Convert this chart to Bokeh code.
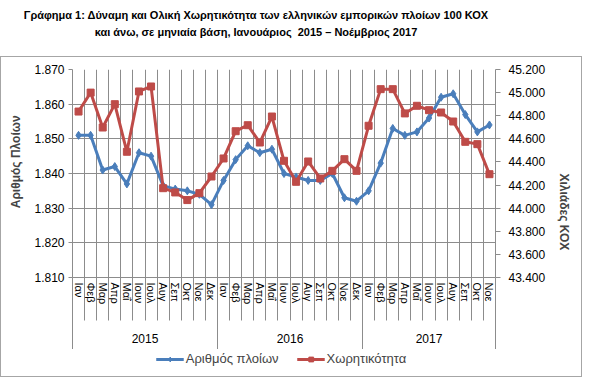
import math
from bokeh.plotting import figure
from bokeh.models import (Range1d, LinearAxis, FixedTicker, Legend, LegendItem, Div,
                          ColumnDataSource, CustomJSTickFormatter)
from bokeh.layouts import column
from bokeh.embed import file_html
from bokeh.resources import INLINE

months = ["Ιαν", "Φεβ", "Μαρ", "Απρ", "Μαΐ", "Ιουν", "Ιουλ", "Αυγ", "Σεπ", "Οκτ", "Νοε", "Δεκ"]
years = ["2015", "2016", "2017"]
categories = months * 2 + months[:11]

# number of ships (left axis)
ships = [1851, 1851, 1841, 1842, 1837, 1846, 1845, 1836.5, 1835.5, 1835, 1834, 1831,
         1838, 1844, 1848, 1846, 1847, 1840, 1839, 1838, 1838, 1840, 1833, 1832,
         1835, 1843, 1853, 1851, 1852, 1856, 1862, 1863, 1857, 1852, 1854]
# tonnage, thousand GT (right axis)
tonnage = [44836, 45000, 44698, 44900, 44488, 45010, 45053, 44173, 44136, 44070, 44130, 44274,
           44430, 44666, 44718, 44568, 44793, 44410, 44228, 44404, 44257, 44323, 44424, 44323,
           44713, 45030, 45030, 44820, 44886, 44848, 44828, 44750, 44574, 44554, 44294]

left_ticks = [1810, 1820, 1830, 1840, 1850, 1860, 1870]
right_ticks = [43400, 43600, 43800, 44000, 44200, 44400, 44600, 44800, 45000, 45200]
series_names = ["Αριθμός πλοίων", "Χωρητικότητα"]

FONT = "Liberation Sans"
GRID = "#8c8c8c"
BLUE = "#4A7EBB"
RED = "#BE4B48"

n = len(categories)
xs = [i + 0.5 for i in range(n)]
src = ColumnDataSource(dict(x=xs, ships=ships, tonnage=tonnage, cat=categories))

p = figure(frame_width=423, frame_height=208, x_range=Range1d(0, n), y_range=Range1d(1810, 1870),
           output_backend="svg", toolbar_location=None,
           min_border_left=71, min_border_right=81, min_border_top=12, min_border_bottom=72)
p.extra_y_ranges = {"gt": Range1d(43400, 45200)}
p.outline_line_color = None
p.background_fill_color = "white"

# grids
p.xgrid.ticker = FixedTicker(ticks=list(range(n + 1)))
p.ygrid.ticker = FixedTicker(ticks=left_ticks)
for g in (p.xgrid[0], p.ygrid[0]):
    g.grid_line_color = GRID
    g.grid_line_width = 1

# left axis
ax = p.yaxis[0]
ax.ticker = FixedTicker(ticks=left_ticks)
ax.formatter = CustomJSTickFormatter(code="return (tick/1000).toFixed(3);")
ax.axis_label = "\u00a0" * 7 + "Αριθμός Πλοίων"
ax.axis_label_text_font = FONT
ax.axis_label_text_font_style = "bold"
ax.axis_label_text_font_size = "12px"
ax.axis_label_standoff = 8
ax.major_label_text_font = FONT
ax.major_label_text_font_size = "12px"
ax.major_label_text_color = "black"
ax.major_label_standoff = 4
ax.major_tick_out = 4
ax.major_tick_in = 0
ax.minor_tick_line_color = None
ax.minor_tick_out = 0
ax.minor_tick_in = 0
ax.axis_line_color = GRID
ax.major_tick_line_color = GRID

# right axis
ra = LinearAxis(y_range_name="gt", ticker=FixedTicker(ticks=right_ticks),
                formatter=CustomJSTickFormatter(code="return (tick/1000).toFixed(3);"))
ra.axis_label = "Χιλιάδες ΚΟΧ" + "\u00a0" * 15
ra.axis_label_orientation = -math.pi / 2
ra.axis_label_text_font = FONT
ra.axis_label_text_font_style = "bold"
ra.axis_label_text_font_size = "12px"
ra.axis_label_standoff = 16
ra.major_label_text_font = FONT
ra.major_label_text_font_size = "12px"
ra.major_label_text_color = "black"
ra.major_label_standoff = 8
ra.major_tick_out = 5
ra.major_tick_in = 0
ra.minor_tick_line_color = None
ra.minor_tick_out = 0
ra.minor_tick_in = 0
ra.axis_line_color = GRID
ra.major_tick_line_color = GRID
p.add_layout(ra, "right")

# bottom axis: months (long minor ticks separate the month labels)
bx = p.xaxis[0]
bx.ticker = FixedTicker(ticks=xs, minor_ticks=list(range(n + 1)))
bx.formatter = CustomJSTickFormatter(args=dict(labels=categories),
                                     code="return labels[Math.floor(tick)] || '';")
bx.major_label_orientation = "vertical"
bx.major_label_text_font = FONT
bx.major_label_text_font_size = "11px"
bx.major_label_text_color = "black"
bx.major_label_standoff = -38
bx.major_tick_out = 0
bx.major_tick_in = 0
bx.major_tick_line_color = None
bx.minor_tick_out = 43
bx.minor_tick_in = 0
bx.minor_tick_line_color = GRID
bx.axis_line_color = GRID

# bottom axis: years (minor ticks are the year separators)
yx = LinearAxis(ticker=FixedTicker(ticks=[6, 18, 29.5], minor_ticks=[0, 12, 24, n]),
                formatter=CustomJSTickFormatter(args=dict(years=years),
                                                code="return years[Math.floor(tick/12)];"))
yx.axis_line_color = None
yx.major_tick_line_color = None
yx.major_tick_out = 0
yx.major_tick_in = 0
yx.minor_tick_out = 44
yx.minor_tick_in = 0
yx.minor_tick_line_color = GRID
yx.major_label_text_font = FONT
yx.major_label_text_font_size = "12px"
yx.major_label_text_color = "black"
yx.major_label_standoff = -18
p.add_layout(yx, "below")

# series
p.line("x", "ships", source=src, line_color=BLUE, line_width=3)
p.scatter("x", "ships", source=src, marker="diamond", size=8, color=BLUE)
p.line("x", "tonnage", source=src, y_range_name="gt", line_color=RED, line_width=3)
p.scatter("x", "tonnage", source=src, y_range_name="gt", marker="square", size=7, color=RED)

# legend strip: same series, ranges chosen so only the legend swatches show
lf = figure(width=575, height=27, output_backend="svg", toolbar_location=None,
            x_range=Range1d(0, 1), y_range=Range1d(0, 1), x_axis_type=None, y_axis_type=None,
            min_border=0, min_border_left=36)
lf.outline_line_color = None
lf.grid.visible = False
l1 = lf.line("x", "ships", source=src, line_color=BLUE, line_width=3)
s1 = lf.scatter("x", "ships", source=src, marker="diamond", size=8, color=BLUE)
l2 = lf.line("x", "tonnage", source=src, line_color=RED, line_width=3)
s2 = lf.scatter("x", "tonnage", source=src, marker="square", size=7, color=RED)
legend = Legend(items=[LegendItem(label=series_names[0], renderers=[l1, s1]),
                       LegendItem(label=series_names[1], renderers=[l2, s2])],
                orientation="horizontal", location="top_center")
legend.padding = 0
legend.margin = 2
legend.spacing = 18
legend.glyph_width = 28
legend.glyph_height = 12
legend.label_standoff = 2
legend.label_text_font = FONT
legend.label_text_font_size = "13px"
legend.border_line_color = None
legend.background_fill_alpha = 0
lf.add_layout(legend)

title_html = ('<div style="font-family: \'Liberation Sans\'; font-weight: bold; font-size: 11px; '
              'line-height: 17px; text-align: center; width: 502px; white-space: nowrap; '
              'padding-top: 2px; color: black;">'
              'Γράφημα 1: Δύναμη και Ολική Χωρητικότητα των ελληνικών εμπορικών πλοίων 100 ΚΟΧ<br>'
              'και άνω, σε μηνιαία βάση, Ιανουάριος&nbsp; 2015 – Νοέμβριος 2017</div>')
title = Div(text=title_html, width=577, height=46)

box = column(p, lf, spacing=0, styles={"border": "1px solid #a6a6a6"})
layout = column(title, box, spacing=0)
open("out.html", "w").write(file_html(layout, INLINE))
